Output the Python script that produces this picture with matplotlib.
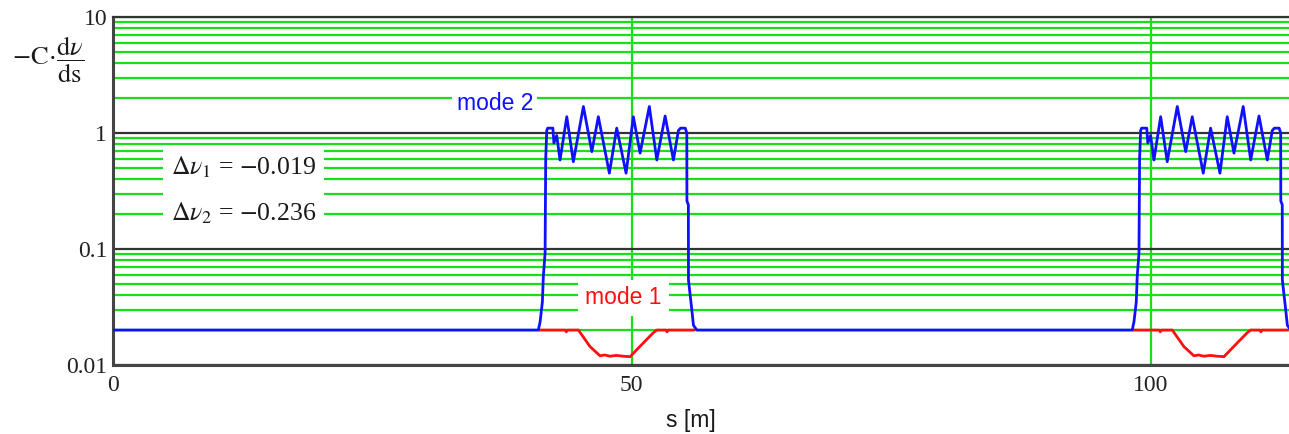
#!/usr/bin/env python3
"""Tune-shift density along the ring: -C dnu/ds for mode 1 / mode 2 (log scale)."""

import matplotlib

matplotlib.use("Agg")
import matplotlib.pyplot as plt
import numpy as np

# lattice cell: one insertion block per cell, two cells shown
CELL_SHIFTS = [0.0, 57.2]
S_MAX = 113.3
BASE = 0.02

# mode 2 (blue) across one block
BLUE_S = [41.00, 41.17, 41.39, 41.48, 41.65, 41.71, 41.81, 41.90, 42.40, 42.50,
          42.77, 43.09, 43.74, 44.37, 45.34, 46.15, 46.78, 47.84, 48.55, 49.45,
          50.15, 50.80, 51.69, 52.41, 53.21, 54.01, 54.49, 54.70, 55.15, 55.30,
          55.31, 55.45, 55.46, 55.78, 55.94, 56.26]
BLUE_V = [0.02, 0.0236, 0.035, 0.058, 0.092, 0.6, 1.05, 1.1, 1.1, 0.82,
          0.95, 0.585, 1.38, 0.565, 1.69, 0.69, 1.38, 0.45, 1.1, 0.45,
          1.38, 0.67, 1.69, 0.585, 1.4, 0.585, 1.05, 1.1, 1.1, 1.0,
          0.26, 0.24, 0.054, 0.03, 0.022, 0.02]

# mode 1 (red) across one block
RED_S = [41.17, 43.60, 43.70, 43.80, 44.86, 45.98, 46.94, 47.40, 47.90, 48.50,
         49.20, 49.84, 50.80, 52.08, 52.41, 53.30, 53.40, 53.50, 55.94]
RED_V = [0.02, 0.02, 0.0193, 0.02, 0.02, 0.0144, 0.0120, 0.0122, 0.0119, 0.0121,
         0.0119, 0.0118, 0.0145, 0.0190, 0.02, 0.02, 0.0193, 0.02, 0.02]

DNU = [-0.019, -0.236]

Y_TICKS = [0.01, 0.1, 1, 10]
Y_LABELS = ["0.01", "0.1", "1", "10"]
X_TICKS = [0, 50, 100]

GREEN = "#18e018"
DARK = "#333333"


def main():
    plt.rcParams["font.family"] = ["Liberation Serif", "DejaVu Serif"]
    plt.rcParams["mathtext.fontset"] = "stix"

    fig = plt.figure(figsize=(12.89, 4.34), dpi=100)
    ax = fig.add_axes([0.0874, 0.159, 0.9126, 0.802])

    bs = np.array(BLUE_S)
    bv = np.array(BLUE_V)
    rs = np.array(RED_S)
    rv = np.array(RED_V)

    blue_s = [np.array([0.0])]
    blue_v = [np.array([BASE])]
    for sh in CELL_SHIFTS:
        blue_s.append(bs + sh)
        blue_v.append(bv)
    blue_s.append(np.array([S_MAX + 1]))
    blue_v.append(np.array([BASE]))
    blue_s = np.concatenate(blue_s)
    blue_v = np.concatenate(blue_v)

    for sh in CELL_SHIFTS:
        ax.plot(rs + sh, rv, color="#ff1010", lw=2.0, zorder=3)
    ax.plot(blue_s, blue_v, color="#1010ff", lw=2.0, zorder=4)

    ax.set_yscale("log")
    ax.set_ylim(0.01, 10)
    ax.set_xlim(0, S_MAX)
    ax.set_yticks(Y_TICKS)
    ax.set_yticklabels(Y_LABELS)
    ax.set_xticks(X_TICKS)
    ax.set_xticklabels([str(v) for v in X_TICKS])

    ax.set_axisbelow(True)
    ax.yaxis.grid(True, which="minor", color=GREEN, lw=1.6)
    ax.yaxis.grid(True, which="major", color=DARK, lw=1.6)
    ax.xaxis.grid(True, which="major", color=GREEN, lw=1.6)
    ax.tick_params(which="both", length=0, labelsize=17, colors="#222222")
    ax.tick_params(axis="x", pad=7)
    ax.tick_params(axis="y", pad=4)

    for side in ("left", "bottom"):
        ax.spines[side].set_color("#444444")
        ax.spines[side].set_linewidth(2.2)
    ax.spines["top"].set_color(DARK)
    ax.spines["top"].set_linewidth(1.6)
    ax.spines["right"].set_visible(False)

    ax.text(36.8, 1.81, "mode 2", color="#1010ff", fontsize=16.5, family="Liberation Sans",
            ha="center", va="center", zorder=5,
            bbox=dict(facecolor="white", edgecolor="none", pad=3))
    ax.text(49.2, 0.0378, "mode 1", color="#ff1010", fontsize=16.5, family="Liberation Sans",
            ha="center", va="center", zorder=5,
            bbox=dict(facecolor="white", edgecolor="none", pad=5))

    txt = (rf"$\Delta\nu_1$ = $-$0.019".replace("0.019", f"{-DNU[0]:.3f}") + "\n"
           + rf"$\Delta\nu_2$ = $-$0.236".replace("0.236", f"{-DNU[1]:.3f}"))
    ax.text(5.6, 0.32, txt, fontsize=18.5, ha="left", va="center", linespacing=2.05,
            color="#1a1a1a", zorder=5,
            bbox=dict(facecolor="white", edgecolor="none", pad=6))

    fig.text(0.037, 0.862, r"$-\mathrm{C}\!\cdot\!\dfrac{\mathrm{d}\nu}{\mathrm{ds}}$",
             fontsize=19, ha="center", va="center", color="#1a1a1a")
    fig.text(0.536, 0.032, "s [m]", fontsize=16.5, family="Liberation Sans",
             ha="center", va="center", color="#1a1a1a")

    fig.savefig("out.png", dpi=100)


if __name__ == "__main__":
    main()
